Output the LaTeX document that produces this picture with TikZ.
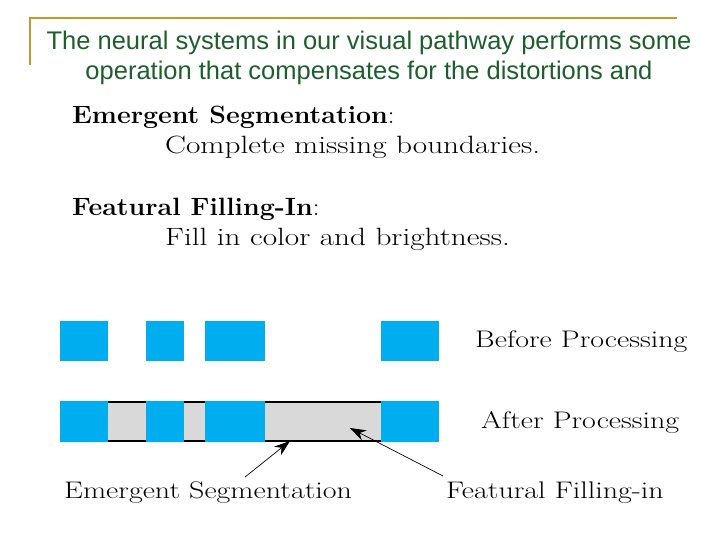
\documentclass[tikz,border=0pt]{standalone}
\usepackage{fontspec}
\newfontfamily\arialfont{Liberation Sans}
\newfontfamily\widefont{Latin Modern Roman}[FakeStretch=1.25]
\newfontfamily\headfont{Latin Modern Roman}[FakeStretch=1.07]
\usetikzlibrary{arrows.meta}
\definecolor{blockblue}{HTML}{00AEEF}
\definecolor{titlegreen}{HTML}{1E5E2E}
\definecolor{rulegold}{HTML}{C09A2A}
\tikzset{
  block/.style={fill=blockblue, draw=none},
  gap/.style={fill=black!15, draw=none},
  lbl/.style={font=\widefont\fontsize{24}{26}\selectfont, inner sep=0pt},
  deftext/.style={anchor=base west, font=\widefont\fontsize{25}{27}\selectfont, inner sep=0pt},
  defhead/.style={anchor=base west, font=\headfont\fontsize{25}{27}\selectfont, inner sep=0pt},
  pointer/.style={-{Stealth[length=16pt,width=11pt]}, line width=0.7pt}
}
\begin{document}
\begin{tikzpicture}[x=1pt, y=-1pt]

\useasboundingbox (0,0) rectangle (720,540);

% header rule
\draw[rulegold, line width=2.5pt] (30,65) -- (30,18) -- (677,18);
\node[font=\arialfont\fontsize{25.5}{29.5}\selectfont, text=titlegreen, align=center, inner sep=0pt] (title) at (369,58)
  {The neural systems in our visual pathway performs some\\operation that compensates for the distortions and};

% definitions
\node[defhead] (seg) at (72,124) {\textbf{Emergent Segmentation}:};
\node[deftext] (segdef) at (165,154) {Complete missing boundaries.};
\node[defhead] (fill) at (72,215) {\textbf{Featural Filling-In}:};
\node[deftext] (filldef) at (165,245) {Fill in color and brightness.};

% before processing
\foreach \a/\b in {60/108, 146/184, 205/265, 381/439}
  \fill[block] (\a,321) rectangle (\b,361);

% after processing
\fill[gap] (108,402) rectangle (381,441);
\draw[line width=1.2pt] (108,402) -- (381,402) (108,441) -- (381,441);
\foreach \a/\b in {60/108, 146/184, 205/265, 381/439}
  \fill[block] (\a,401) rectangle (\b,442);

\coordinate (edge) at (290,441);
\coordinate (inner) at (350,428);

% labels
\node[lbl, anchor=west] (before) at (475,342) {Before Processing};
\node[lbl, anchor=west] (after) at (481,422) {After Processing};
\node[lbl, anchor=west] (emseg) at (64,493) {Emergent Segmentation};
\node[lbl, anchor=west] (featfill) at (446,493) {Featural Filling-in};

\draw[pointer] (245,477) -- (edge);
\draw[pointer] (443,476) -- (inner);

\end{tikzpicture}
\end{document}
